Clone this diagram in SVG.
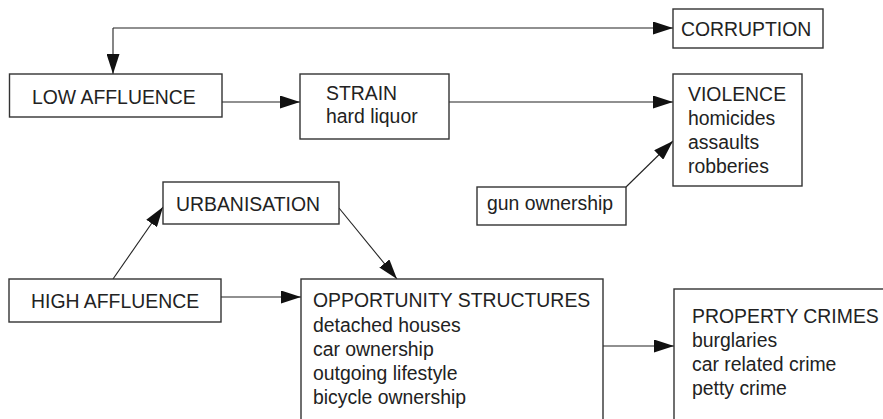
<svg xmlns="http://www.w3.org/2000/svg" width="883" height="419" viewBox="0 0 883 419">
<style>
.box{fill:#fff;stroke:#333;stroke-width:1.4}
.t{font-family:"Liberation Sans",Arial,sans-serif;font-size:19.4px;fill:#222}
.c{fill:none;stroke:#222;stroke-width:1.1;marker-end:url(#ah)}
</style>
<defs>
<marker id="ah" markerUnits="userSpaceOnUse" markerWidth="20" markerHeight="13" refX="20" refY="6.5" orient="auto">
<path d="M0,0 L20,6.5 L0,13 z" fill="#111"/>
</marker>
</defs>
<g id="connectors">
<path class="c" d="M113,28 L113,74"/>
<path class="c" d="M113,28 L673,28"/>
<path class="c" d="M222,102 L300,102"/>
<path class="c" d="M449,102 L673,102"/>
<path class="c" d="M626,187 L673,141"/>
<path class="c" d="M113,279 L163,207"/>
<path class="c" d="M339,208 L397,279"/>
<path class="c" d="M221,297 L301,297"/>
<path class="c" d="M603,346 L674,346"/>
</g>
<g id="corruption">
<rect class="box" x="673" y="9" width="150" height="39"/>
<text class="t" x="681" y="36">CORRUPTION</text>
</g>
<g id="low-affluence">
<rect class="box" x="9.5" y="74" width="212.5" height="43"/>
<text class="t" x="32" y="104">LOW AFFLUENCE</text>
</g>
<g id="strain">
<rect class="box" x="300" y="74" width="149" height="65"/>
<text class="t" x="326" y="100">STRAIN</text>
<text class="t" x="326" y="123">hard liquor</text>
</g>
<g id="violence">
<rect class="box" x="673" y="74" width="129" height="112"/>
<text class="t" x="688" y="101">VIOLENCE</text>
<text class="t" x="688" y="125">homicides</text>
<text class="t" x="688" y="149">assaults</text>
<text class="t" x="688" y="173">robberies</text>
</g>
<g id="gun-ownership">
<rect class="box" x="477" y="187" width="149" height="38"/>
<text class="t" x="487" y="210">gun ownership</text>
</g>
<g id="urbanisation">
<rect class="box" x="163" y="182" width="176" height="42"/>
<text class="t" x="176" y="211">URBANISATION</text>
</g>
<g id="high-affluence">
<rect class="box" x="9" y="279" width="212" height="43"/>
<text class="t" x="31" y="308">HIGH AFFLUENCE</text>
</g>
<g id="opportunity-structures">
<rect class="box" x="301" y="279" width="302" height="160"/>
<text class="t" x="313" y="307">OPPORTUNITY STRUCTURES</text>
<text class="t" x="313" y="332">detached houses</text>
<text class="t" x="313" y="356">car ownership</text>
<text class="t" x="313" y="380">outgoing lifestyle</text>
<text class="t" x="313" y="404">bicycle ownership</text>
</g>
<g id="property-crimes">
<rect class="box" x="674" y="289" width="230" height="150"/>
<text class="t" x="692" y="323">PROPERTY CRIMES</text>
<text class="t" x="692" y="347">burglaries</text>
<text class="t" x="692" y="371">car related crime</text>
<text class="t" x="692" y="395">petty crime</text>
</g>
</svg>
